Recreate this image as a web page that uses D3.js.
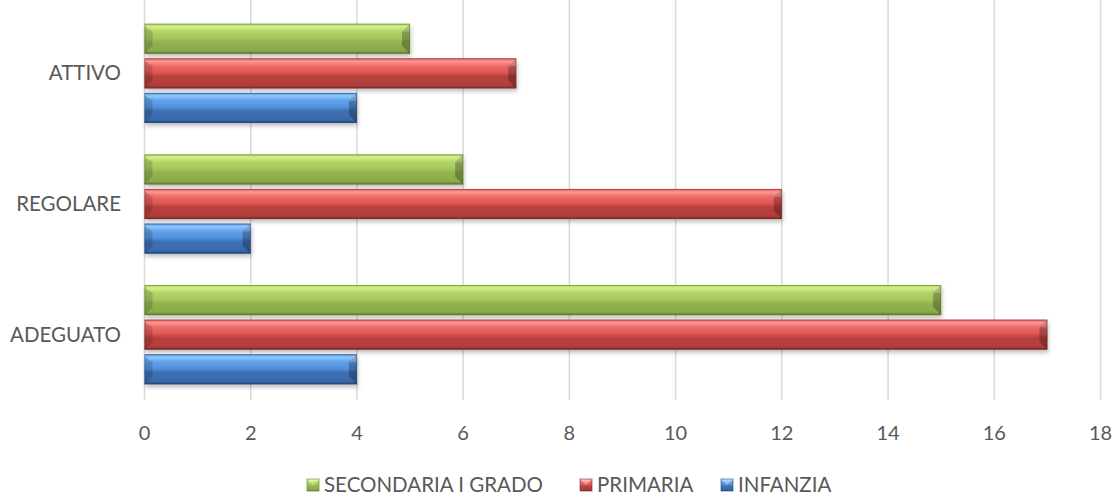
<!DOCTYPE html>
<html>
<head>
<meta charset="utf-8">
<script src="https://cdn.jsdelivr.net/npm/d3@7"></script>
<style>
  body { margin: 0; background: #fff; }
  text { font-family: Lato, "Open Sans", sans-serif; fill: #595959; }
</style>
</head>
<body>
<div id="chart"></div>
<script>
const categories = ['ATTIVO', 'REGOLARE', 'ADEGUATO'];
const seriesNames = ['SECONDARIA I GRADO', 'PRIMARIA', 'INFANZIA'];
const secondaria = [5, 6, 15];
const primaria = [7, 12, 17];
const infanzia = [4, 2, 4];
const xTicks = [0, 2, 4, 6, 8, 10, 12, 14, 16, 18];

const values = [secondaria, primaria, infanzia];
const width = 1120, height = 499;

// gradient stops for each series (bevelled Excel look)
const palette = [
  { stops: ['#a9cc5c', '#d6f08a', '#b2d568', '#a5c75d', '#93b450', '#8aa94a', '#5d7a2c'], edge: '#5c7529' },
  { stops: ['#e05c59', '#ff9793', '#ee6c69', '#dc5653', '#b9413e', '#b03e3b', '#7a2a28'], edge: '#7a2a28' },
  { stops: ['#5893d8', '#8ec6ff', '#62a3ec', '#5290dc', '#3e70b4', '#3a6aab', '#1f4677'], edge: '#234b7d' }
];
const offsets = ['0%', '10%', '25%', '48%', '60%', '90%', '100%'];

const svg = d3.select('#chart').append('svg')
  .attr('width', width)
  .attr('height', height);

const defs = svg.append('defs');
palette.forEach((p, i) => {
  const g = defs.append('linearGradient')
    .attr('id', 'grad' + i)
    .attr('x1', 0).attr('y1', 0).attr('x2', 0).attr('y2', 1);
  p.stops.forEach((c, k) => {
    g.append('stop').attr('offset', offsets[k]).attr('stop-color', c);
  });
});
const shadow = defs.append('filter').attr('id', 'shadow')
  .attr('x', '-5%').attr('y', '-20%').attr('width', '110%').attr('height', '160%');
shadow.append('feDropShadow')
  .attr('dx', 1).attr('dy', 3).attr('stdDeviation', 2)
  .attr('flood-color', '#000').attr('flood-opacity', 0.25);

const x = d3.scaleLinear().domain([0, 18]).range([144.5, 1100.5]);
const y = d3.scaleBand().domain(categories).range([8, 400])
  .paddingInner(0.24).paddingOuter(0.12);
const yInner = d3.scaleBand().domain(seriesNames).range([0, y.bandwidth()])
  .paddingInner(0.13);

// gridlines
svg.append('g')
  .selectAll('line')
  .data(xTicks)
  .join('line')
  .attr('x1', d => x(d)).attr('x2', d => x(d))
  .attr('y1', 0).attr('y2', 400)
  .attr('stroke', '#d9d9d9')
  .attr('stroke-width', 1.5);

// x tick labels
svg.append('g')
  .selectAll('text')
  .data(xTicks)
  .join('text')
  .attr('x', d => x(d))
  .attr('y', 440)
  .attr('text-anchor', 'middle')
  .style('font-size', '20px')
  .text(d => d);

// category labels
svg.append('g')
  .selectAll('text')
  .data(categories)
  .join('text')
  .attr('x', 121)
  .attr('y', d => y(d) + y.bandwidth() / 2 + 7)
  .attr('text-anchor', 'end')
  .style('font-size', '20.5px')
  .text(d => d);

function drawBar(g, x0, y0, w, h, i) {
  const p = palette[i];
  const b = Math.min(8, w / 2);
  const bar = g.append('g');
  bar.append('rect')
    .attr('x', x0).attr('y', y0).attr('width', w).attr('height', h)
    .attr('fill', `url(#grad${i})`)
    .attr('filter', 'url(#shadow)');
  // left bevel: dark lower triangle
  bar.append('polygon')
    .attr('points', [[x0, y0 + 2], [x0 + b, y0 + b], [x0 + b, y0 + h - b], [x0, y0 + h]].join(' '))
    .attr('fill', '#000').attr('opacity', 0.15);
  // right bevel
  bar.append('polygon')
    .attr('points', [[x0 + w, y0], [x0 + w - b, y0 + b], [x0 + w - b, y0 + h - b], [x0 + w, y0 + h]].join(' '))
    .attr('fill', '#000').attr('opacity', 0.25);
  bar.append('polygon')
    .attr('points', [[x0 + w, y0], [x0 + w - b, y0 + b], [x0 + w, y0 + b]].join(' '))
    .attr('fill', '#fff').attr('opacity', 0.2);
  bar.append('rect')
    .attr('x', x0 + 0.5).attr('y', y0 + 0.5).attr('width', w - 1).attr('height', h - 1)
    .attr('fill', 'none').attr('stroke', p.edge).attr('stroke-opacity', 0.5);
}

const bars = svg.append('g');
categories.forEach((c, ci) => {
  seriesNames.forEach((s, si) => {
    const v = values[si][ci];
    drawBar(bars, x(0), y(c) + yInner(s), x(v) - x(0), yInner.bandwidth(), si);
  });
});

// legend
const legendItems = [
  { name: seriesNames[0], x: 307 },
  { name: seriesNames[1], x: 580 },
  { name: seriesNames[2], x: 721 }
];
const legend = svg.append('g');
legendItems.forEach((d, i) => {
  const lg = legend.append('g').attr('transform', `translate(${d.x},479)`);
  lg.append('rect')
    .attr('width', 12).attr('height', 12)
    .attr('fill', `url(#grad${i})`)
    .attr('stroke', palette[i].edge).attr('stroke-opacity', 0.6);
  lg.append('polygon')
    .attr('points', '0,0 12,0 6,6')
    .attr('fill', '#fff').attr('opacity', 0.35);
  lg.append('text')
    .attr('x', 17).attr('y', 13)
    .style('font-size', '20.5px')
    .text(d.name);
});
</script>
</body>
</html>
